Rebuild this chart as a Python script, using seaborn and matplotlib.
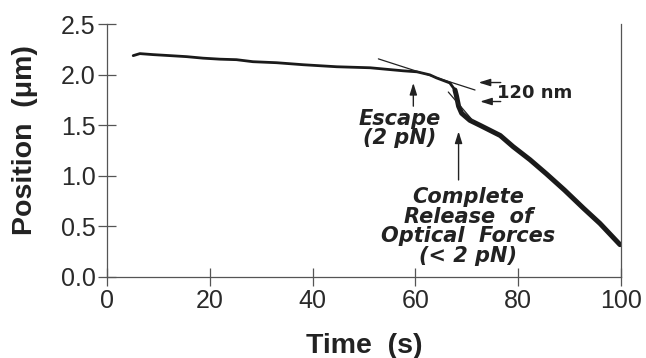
import numpy as np
import pandas as pd
import matplotlib
matplotlib.use("Agg")
import matplotlib.pyplot as plt
from matplotlib.ticker import FormatStrFormatter
import seaborn as sns

# slow drift before escape (time in s, position in um)
flat_t = [5.1, 6.4, 9.0, 12.3, 15.5, 18.7, 22.0, 25.2, 28.4, 33.0, 35.6, 38.2,
          44.7, 51.2, 57.6, 60.3, 62.8, 64.1, 66.7, 67.7]
flat_pos = [2.19, 2.21, 2.20, 2.19, 2.18, 2.165, 2.155, 2.15, 2.13, 2.12, 2.11, 2.10,
            2.08, 2.07, 2.04, 2.03, 2.00, 1.97, 1.92, 1.85]

# faster descent after release
fall_t = [67.7, 68.0, 68.4, 69.0, 70.6, 72.6, 76.5, 79.0, 82.3, 85.5, 89.0,
          92.7, 95.9, 99.8]
fall_pos = [1.85, 1.79, 1.69, 1.62, 1.55, 1.50, 1.40, 1.29, 1.16, 1.02, 0.86,
            0.68, 0.53, 0.32]

# guide lines drawn along the trace
tangent1_t = [52.8, 71.6]
tangent1_pos = [2.158, 1.85]
tangent2_t = [66.4, 71.3]
tangent2_pos = [1.83, 1.54]

x_ticks = [0, 20, 40, 60, 80, 100]
y_ticks = [0.0, 0.5, 1.0, 1.5, 2.0, 2.5]

sns.set_style("ticks")
plt.rcParams["font.family"] = ["Liberation Sans", "DejaVu Sans"]

fig = plt.figure(figsize=(6.46, 3.58), dpi=100)
ax = fig.add_axes([0.1656, 0.2263, 0.7957, 0.7058])

df_flat = pd.DataFrame({"t": flat_t, "pos": flat_pos})
df_fall = pd.DataFrame({"t": fall_t, "pos": fall_pos})
sns.lineplot(data=df_flat, x="t", y="pos", ax=ax, color="#1a1a1a", lw=2.0, sort=False)
sns.lineplot(data=df_fall, x="t", y="pos", ax=ax, color="#1a1a1a", lw=3.6, sort=False)

ax.plot(tangent1_t, tangent1_pos, color="#222222", lw=0.9)
ax.plot(tangent2_t, tangent2_pos, color="#222222", lw=0.9)

arrow_kw = dict(arrowstyle="-|>,head_length=0.7,head_width=0.22", color="#222222", lw=1.0,
                shrinkA=0, shrinkB=0)
ann_font = dict(family="DejaVu Sans", fontweight="bold", fontstyle="italic",
                fontsize=15, color="#222222")

# escape
ax.annotate("", xy=(59.6, 1.92), xytext=(59.6, 1.69), arrowprops=arrow_kw)
ax.text(57.0, 1.47, "Escape\n(2 pN)", ha="center", va="center", linespacing=0.95, **ann_font)

# complete release
ax.annotate("", xy=(68.4, 1.44), xytext=(68.4, 0.96), arrowprops=arrow_kw)
ax.text(70.3, 0.50, "Complete\nRelease  of\nOptical  Forces\n(< 2 pN)", ha="center", va="center",
        linespacing=0.98, **ann_font)

# 120 nm step
ax.annotate("", xy=(72.3, 1.924), xytext=(76.6, 1.924), arrowprops=arrow_kw)
ax.annotate("", xy=(72.6, 1.736), xytext=(76.6, 1.736), arrowprops=arrow_kw)
ax.text(75.9, 1.82, "120 nm", ha="left", va="center", family="DejaVu Sans",
        fontweight="bold", fontsize=13, color="#222222")

ax.set_xlim(0, 100)
ax.set_ylim(0, 2.5)
ax.set_xticks(x_ticks)
ax.set_yticks(y_ticks)
ax.yaxis.set_major_formatter(FormatStrFormatter("%.1f"))

ax.spines["top"].set_visible(False)
for side in ["left", "bottom", "right"]:
    ax.spines[side].set_color("#555555")
    ax.spines[side].set_linewidth(0.9)

ax.tick_params(axis="both", direction="inout", length=13, width=0.9, color="#555555",
               labelsize=18, labelcolor="#2a2a2a")
ax.tick_params(axis="x", pad=2)
ax.tick_params(axis="y", pad=1.5)

ax.set_xlabel("Time  (s)", fontsize=20.5, fontweight="bold", color="#222222", va="center")
ax.set_ylabel("Position  (\u03bcm)", fontsize=20.5, fontweight="bold", color="#222222", va="center")
ax.xaxis.set_label_coords(0.5, -0.273)
ax.yaxis.set_label_coords(-0.16, 0.540)

fig.savefig("out.png", dpi=100)
